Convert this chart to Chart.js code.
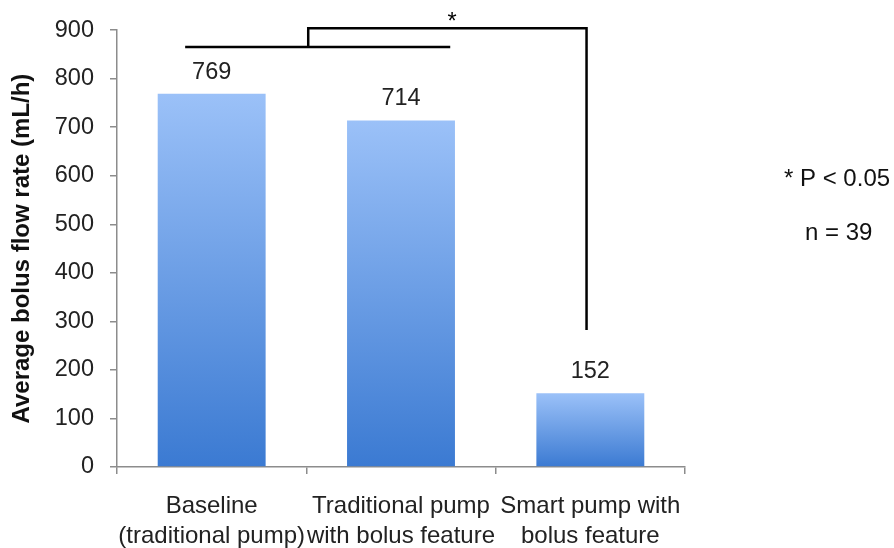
<!DOCTYPE html>
<html>
<head>
<meta charset="utf-8">
<script src="https://cdn.jsdelivr.net/npm/chart.js@4.4.1/dist/chart.umd.min.js"></script>
<style>
  html, body { margin: 0; padding: 0; background: #ffffff; }
  #wrap { width: 894px; height: 548px; }
</style>
</head>
<body>
<div id="wrap"><canvas id="bolus" width="894" height="548"></canvas></div>
<script>
const categories = [
  ["Baseline", "(traditional pump)"],
  ["Traditional pump", "with bolus feature"],
  ["Smart pump with", "bolus feature"]
];
const flowRates = [769, 714, 152];
const yTicks = [0, 100, 200, 300, 400, 500, 600, 700, 800, 900];
const notes = ["* P < 0.05", "n = 39"];

// significance bracket, in axis units (x = category index, y = mL/h)
const bracketLow = [-0.14, 1.26, 865];
const bracketHigh = [0.51, 1.98, 904];
const bracketDrop = 282;

const FONT = "'Liberation Sans', Arial, sans-serif";
const axisGrey = "#8c8c8c";

const bolusCanvas = document.getElementById("bolus");

function barFill(context) {
  const chart = context.chart;
  const y = chart.scales.y;
  if (!chart.chartArea || !y) return "#6a9be4";
  const top = y.getPixelForValue(flowRates[context.dataIndex]);
  const bottom = y.getPixelForValue(0);
  const g = chart.ctx.createLinearGradient(0, top, 0, bottom);
  g.addColorStop(0, "#9bc1f8");
  g.addColorStop(1, "#3b7ad2");
  return g;
}

const extras = {
  id: "extras",
  afterDatasetsDraw(chart) {
    const ctx = chart.ctx;
    const x = chart.scales.x;
    const y = chart.scales.y;
    ctx.save();

    // value labels above bars
    ctx.fillStyle = "#222222";
    ctx.font = "23.5px " + FONT;
    ctx.textAlign = "center";
    ctx.textBaseline = "alphabetic";
    chart.getDatasetMeta(0).data.forEach((bar, i) => {
      ctx.fillText(String(flowRates[i]), bar.x, bar.y - 15);
    });

    // bracket
    ctx.strokeStyle = "#000000";
    ctx.lineWidth = 2.5;
    ctx.beginPath();
    ctx.moveTo(x.getPixelForValue(bracketLow[0]), y.getPixelForValue(bracketLow[2]));
    ctx.lineTo(x.getPixelForValue(bracketLow[1]), y.getPixelForValue(bracketLow[2]));
    ctx.moveTo(x.getPixelForValue(bracketHigh[0]), y.getPixelForValue(bracketLow[2]));
    ctx.lineTo(x.getPixelForValue(bracketHigh[0]), y.getPixelForValue(bracketHigh[2]));
    ctx.lineTo(x.getPixelForValue(bracketHigh[1]), y.getPixelForValue(bracketHigh[2]));
    ctx.lineTo(x.getPixelForValue(bracketHigh[1]), y.getPixelForValue(bracketDrop));
    ctx.stroke();

    ctx.fillStyle = "#000000";
    ctx.fillText("*", 452, 29);

    // notes on the right
    ctx.fillStyle = "#111111";
    ctx.font = "24px " + FONT;
    ctx.textAlign = "left";
    ctx.fillText(notes[0], 784, 186);
    ctx.fillText(notes[1], 805, 240);
    ctx.restore();
  }
};

new Chart(bolusCanvas, {
  type: "bar",
  data: {
    labels: categories,
    datasets: [
      {
        data: flowRates,
        backgroundColor: barFill,
        borderWidth: 0,
        categoryPercentage: 1,
        barPercentage: 0.57
      }
    ]
  },
  options: {
    responsive: false,
    animation: false,
    layout: {
      padding: { top: 30, right: 209, left: 0, bottom: 0 }
    },
    scales: {
      x: {
        grid: {
          offset: true,
          drawOnChartArea: false,
          tickLength: 7,
          color: axisGrey,
          lineWidth: 1.5
        },
        border: { color: axisGrey, width: 1.5 },
        ticks: {
          color: "#222222",
          padding: 17,
          maxRotation: 0,
          autoSkip: false,
          font: { family: FONT, size: 24, lineHeight: 1.25 }
        },
        afterFit: function (scale) {
          scale.height = 81;
        }
      },
      y: {
        min: 0,
        max: 900,
        afterBuildTicks: function (scale) {
          scale.ticks = yTicks.map((v) => ({ value: v }));
        },
        grid: {
          drawOnChartArea: false,
          tickLength: 7,
          color: axisGrey,
          lineWidth: 1.5
        },
        border: { color: axisGrey, width: 1.5 },
        ticks: {
          color: "#222222",
          padding: 16,
          font: { family: FONT, size: 23.5 }
        },
        title: {
          display: true,
          text: "Average bolus flow rate (mL/h)",
          color: "#111111",
          padding: { top: 8, bottom: 0 },
          font: { family: FONT, size: 24, weight: "bold", lineHeight: 1.2 }
        },
        afterFit: function (scale) {
          scale.width = 117;
        }
      }
    },
    plugins: {
      legend: { display: false },
      tooltip: { enabled: false }
    }
  },
  plugins: [extras]
});
</script>
</body>
</html>
